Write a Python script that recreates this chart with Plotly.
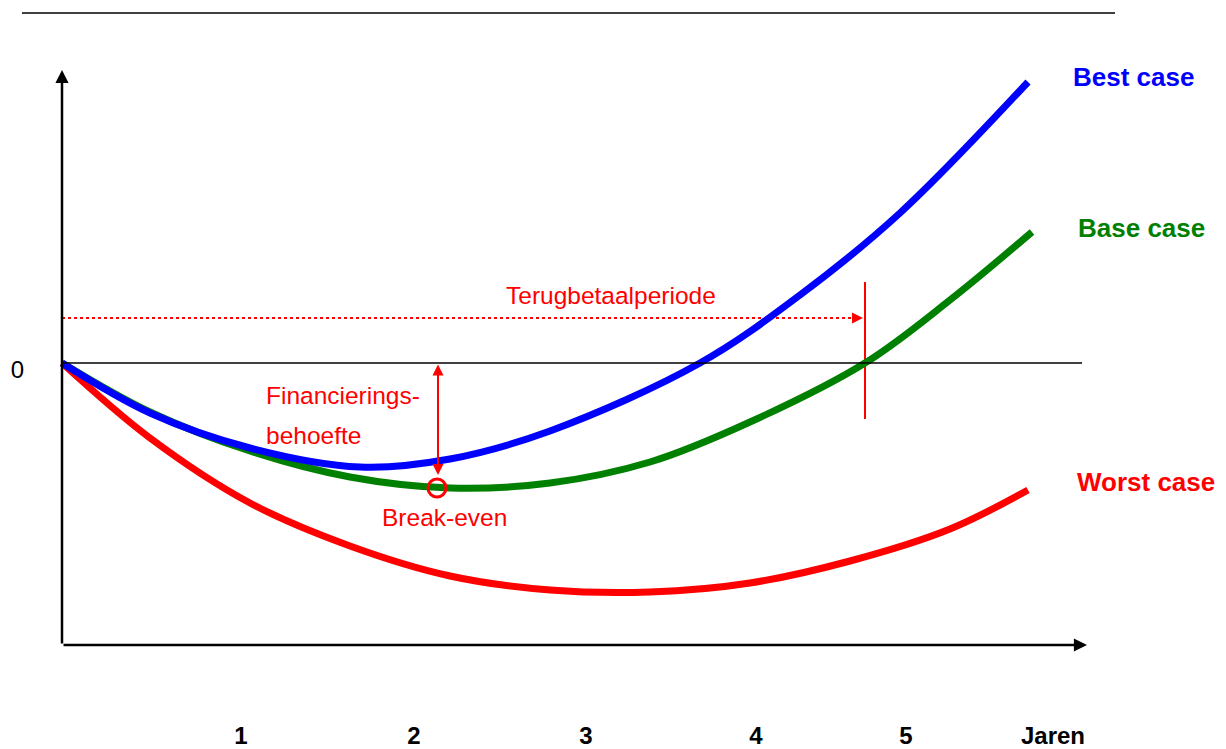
import plotly.graph_objects as go

# ---- data (x = time position, y = cumulative cash position; 0 = break-even line) ----
best_x = [0, 88, 188, 298, 388, 488, 638, 738, 838, 966]
best_y = [0, -50, -85, -104, -96, -68, 0, 68, 150, 281]

base_x = [0, 88, 188, 288, 388, 488, 588, 688, 803, 888, 970]
base_y = [0, -49, -88, -114, -125, -120, -99, -59, 0, 63, 131]

worst_x = [0, 88, 188, 288, 388, 488, 588, 688, 788, 888, 966]
worst_y = [0, -75, -140, -183, -213, -227, -229, -220, -198, -166, -127]

year_ticks = [179, 352, 524, 694, 844, 991]
year_labels = ["1", "2", "3", "4", "5", "Jaren"]

breakeven_x, breakeven_y = 375, -125     # point marked on base case
payback_x = 803                          # base case crosses zero
financing_need = -112                    # depth of financing need
payback_level = 45                       # level of payback arrow

axis_bottom = -282
axis_top = 293
axis_right = 1025
zero_right = 1020

XMIN, XMAX = -34, 1164
YMIN, YMAX = -354, 363

RED, GREEN, BLUE = "#FF0000", "#008000", "#0000FF"
FONT = "Liberation Sans, Arial, sans-serif"

fig = go.Figure()

# dotted payback line
fig.add_trace(go.Scatter(x=[0, payback_x - 8], y=[payback_level, payback_level], mode="lines",
                         line=dict(color=RED, width=2, dash="dot"), hoverinfo="skip"))
# payback vertical marker
fig.add_trace(go.Scatter(x=[payback_x, payback_x], y=[81, -56], mode="lines",
                         line=dict(color=RED, width=2), hoverinfo="skip"))

for xs, ys, col in [(worst_x, worst_y, RED), (base_x, base_y, GREEN), (best_x, best_y, BLUE)]:
    fig.add_trace(go.Scatter(x=xs, y=ys, mode="lines",
                             line=dict(color=col, width=7, shape="spline", smoothing=1.0),
                             hoverinfo="skip"))

# break-even circle
fig.add_trace(go.Scatter(x=[breakeven_x], y=[breakeven_y], mode="markers",
                         marker=dict(symbol="circle-open", size=18, color=RED, line=dict(width=3, color=RED)),
                         hoverinfo="skip"))

# zero line
fig.add_shape(type="line", x0=0, x1=zero_right, y0=0, y1=0, line=dict(color="black", width=1.5))
# top rule (paper coordinates)
fig.add_shape(type="line", xref="paper", yref="paper",
              x0=(-40 - XMIN) / (XMAX - XMIN), x1=(1053 - XMIN) / (XMAX - XMIN),
              y0=(350 - YMIN) / (YMAX - YMIN), y1=(350 - YMIN) / (YMAX - YMIN),
              line=dict(color="black", width=1.5))

annotations = []
def arrow(x, y, ax, ay, color, width, size, side="end"):
    annotations.append(dict(x=x, y=y, ax=ax, ay=ay, xref="x", yref="y", axref="x", ayref="y",
                            text="", showarrow=True, arrowhead=2, arrowsize=size, arrowwidth=width,
                            arrowcolor=color, arrowside=side, startarrowhead=2, startarrowsize=size))

arrow(0, axis_top, 0, axis_bottom, "black", 2.5, 1.05)
arrow(axis_right, axis_bottom, 0, axis_bottom, "black", 2.5, 1.05)
arrow(payback_x - 2, payback_level, payback_x - 14, payback_level, RED, 2, 1.1)
arrow(376, financing_need, 376, 0, RED, 2, 1.1, side="end+start")

def label(x, y, text, color, size, bold=False, xanchor="left"):
    annotations.append(dict(x=x, y=y, xref="x", yref="y", text=f"<b>{text}</b>" if bold else text,
                            showarrow=False, xanchor=xanchor, yanchor="middle",
                            font=dict(family=FONT, size=size, color=color)))

label(1009, 286, "Best case", BLUE, 26, bold=True)
label(1014, 135, "Base case", GREEN, 26, bold=True)
label(1013, -119, "Worst case", RED, 26, bold=True)
label(549, 68, "Terugbetaalperiode", RED, 24.5, xanchor="center")
label(202, -32, "Financierings-", RED, 24.5)
label(202, -72, "behoefte", RED, 24.5)
label(382, -154, "Break-even", RED, 24.5, xanchor="center")

fig.update_layout(
    width=1226, height=749,
    margin=dict(l=28, r=0, t=0, b=32, autoexpand=False),
    paper_bgcolor="white", plot_bgcolor="white",
    showlegend=False,
    annotations=annotations,
    xaxis=dict(range=[XMIN, XMAX], showgrid=False, zeroline=False, showline=False,
               automargin=False,
               tickmode="array", tickvals=year_ticks,
               ticktext=[f"<b>{t}</b>" for t in year_labels], ticks="",
               ticklabelstandoff=2,
               tickfont=dict(family=FONT, size=24, color="black"), fixedrange=True),
    yaxis=dict(range=[YMIN, YMAX], showgrid=False, zeroline=False, showline=False,
               automargin=False,
               tickmode="array", tickvals=[0], ticktext=["0"], ticks="",
               ticklabelshift=7, ticklabelstandoff=3,
               tickfont=dict(family=FONT, size=24, color="black"), fixedrange=True),
)

fig.write_html("out.html")
